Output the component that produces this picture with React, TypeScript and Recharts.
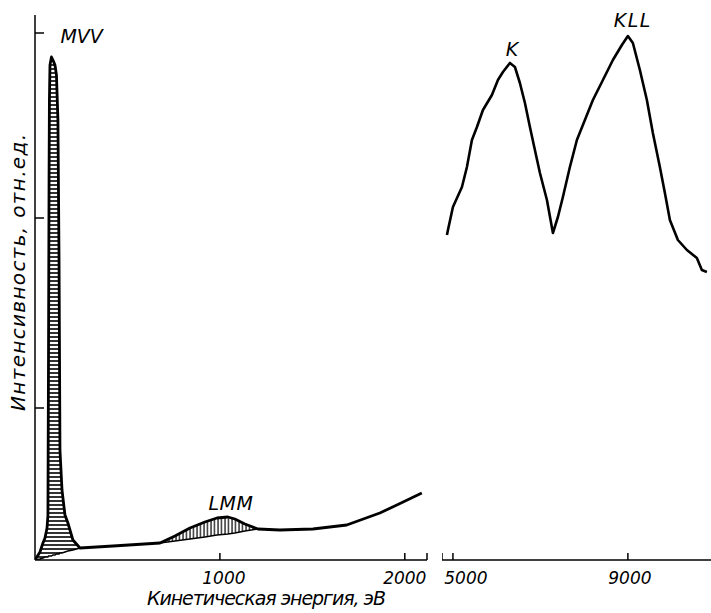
import React from 'react';
import { ComposedChart, Line, Area, XAxis, YAxis, ReferenceDot, Label } from 'recharts';

// ---- Left panel (0 – 2120 eV) ----
const leftEnergy = [0, 27, 43, 54, 65, 70, 73, 76, 78, 81, 89, 97, 108, 116, 124, 130, 135, 146, 162, 178, 205, 243, 422, 676, 757, 838, 919, 984, 1043, 1081, 1135, 1205, 1324, 1503, 1686, 1865, 1957, 2092];
const leftIntensity = [0, 8, 17, 22, 32, 45, 200, 380, 460, 495, 503, 500, 495, 485, 440, 300, 110, 70, 45, 37, 20, 12, 14, 17, 24, 32, 38, 42, 43, 41, 36, 31, 30, 31, 35, 47, 55, 67];
const leftBackground: (number | null)[] = [0, 1, 2, 3, 3, 3, 4, 4, 4, 4, 4, 5, 5, 6, 6, 6, 7, 7, 8, 9, 10, 12, null, 17, 19, 21, 23, 25, 26, 27, 29, 31, null, null, null, null, null, null];
const leftBandKind = ['mvv', 'mvv', 'mvv', 'mvv', 'mvv', 'mvv', 'mvv', 'mvv', 'mvv', 'mvv', 'mvv', 'mvv', 'mvv', 'mvv', 'mvv', 'mvv', 'mvv', 'mvv', 'mvv', 'mvv', 'mvv', 'mvv', '', 'lmm', 'lmm', 'lmm', 'lmm', 'lmm', 'lmm', 'lmm', 'lmm', 'lmm', '', '', '', '', '', ''];

// ---- Right panel (4750 – 10900 eV) ----
const rightEnergy = [4863, 4886, 5000, 5206, 5320, 5434, 5549, 5686, 5891, 6029, 6143, 6303, 6417, 6531, 6646, 6760, 6874, 6989, 7149, 7286, 7400, 7514, 7674, 7834, 8017, 8200, 8429, 8657, 8863, 9000, 9114, 9274, 9434, 9571, 9731, 9846, 9960, 10143, 10349, 10577, 10691, 10806];
const rightIntensity = [325, 330, 353, 373, 393, 420, 433, 450, 465, 480, 488, 497, 493, 477, 457, 433, 410, 387, 360, 327, 343, 363, 393, 420, 440, 460, 480, 500, 515, 524, 517, 490, 460, 427, 393, 367, 340, 320, 310, 302, 290, 288];

// ---- Axes ----
const leftTicks = [1000, 2000, 2120];
const leftTickLabels = ['1000', '2000', ''];
const rightTicks = [4750, 5000, 9000];
const rightTickLabels = ['', '5000', '9000'];
const yTicks = [152, 342, 527];

// ---- Peak labels ----
const peakNames = ['MVV', 'LMM', 'K', 'KLL'];
const peakEnergy = [89, 1043, 6303, 9000];
const peakIntensity = [503, 43, 497, 524];

const leftData = leftEnergy.map((e, i) => ({
  e,
  y: leftIntensity[i],
  mvv: leftBandKind[i] === 'mvv' ? [leftBackground[i], leftIntensity[i]] : null,
  lmm: leftBandKind[i] === 'lmm' ? [leftBackground[i], leftIntensity[i]] : null,
  bg: leftBackground[i],
}));
const rightData = rightEnergy.map((e, i) => ({ e, y: rightIntensity[i] }));

const FONT = '"DejaVu Sans", sans-serif';

const makeXTick = (ticks: number[], labels: string[], shifts: number[]) => (props: any) => {
  const { x, y, payload } = props;
  const idx = ticks.indexOf(payload.value);
  const lab = idx >= 0 ? labels[idx] : '';
  const dx = idx >= 0 ? shifts[idx] : 0;
  return (
    <g>
      <line x1={x} x2={x} y1={y} y2={y - 7} stroke="#000" strokeWidth={1.5} />
      {lab ? (
        <text x={x + dx} y={y + 24} textAnchor="middle" fontFamily={FONT} fontStyle="italic" fontSize={17} fill="#000">
          {lab}
        </text>
      ) : null}
    </g>
  );
};

const YTick = (props: any) => {
  const { x, y } = props;
  return <line x1={x} x2={x + 9} y1={y} y2={y} stroke="#000" strokeWidth={1.5} />;
};

const PeakLabel = (text: string, dx: number, dy: number, anchor: string, spacing: number) => (props: any) => {
  const vb = props.viewBox || {};
  return (
    <text x={vb.x + dx} y={vb.y + dy} textAnchor={anchor} fontFamily={FONT} fontStyle="italic" fontSize={19} letterSpacing={spacing} fill="#000">
      {text}
    </text>
  );
};

const XTitle = (props: any) => {
  const vb = props.viewBox || {};
  return (
    <text x={vb.x + 112} y={vb.y + 45} fontFamily={FONT} fontStyle="italic" fontSize={19} textLength={239} lengthAdjust="spacing" fill="#000">
      Кинетическая энергия, эВ
    </text>
  );
};

const YTitle = (props: any) => {
  const vb = props.viewBox || {};
  const cx = vb.x + vb.width - 10;
  const cy = vb.y + vb.height / 2 - 15;
  return (
    <text x={cx} y={cy} transform={`rotate(-90, ${cx}, ${cy})`} textAnchor="middle" fontFamily={FONT} fontStyle="italic" fontSize={20} textLength={277} lengthAdjust="spacing" fill="#000">
      Интенсивность, отн.ед.
    </text>
  );
};

const labelSpecs: [number, number, string, number][] = [
  [9, -14, 'start', 0],
  [3, -7, 'middle', 0.5],
  [2, -7, 'middle', 0],
  [5, -9, 'middle', 1.5],
];

export default function App() {
  return (
    <div style={{ position: 'absolute', left: 0, top: 0, width: 711, height: 613, background: '#fff' }}>
      <div style={{ position: 'absolute', left: 0, top: 0 }}>
        <ComposedChart width={440} height={613} data={leftData} margin={{ top: 15, right: 13, bottom: 52, left: 34 }}>
          <defs>
            <pattern id="hatchH" width={6} height={4} patternUnits="userSpaceOnUse">
              <rect width={6} height={4} fill="#fff" />
              <line x1={0} x2={6} y1={1} y2={1} stroke="#000" strokeWidth={1.6} />
            </pattern>
            <pattern id="hatchV" width={3.5} height={6} patternUnits="userSpaceOnUse">
              <rect width={3.5} height={6} fill="#fff" />
              <line x1={1} x2={1} y1={0} y2={6} stroke="#000" strokeWidth={1.2} />
            </pattern>
          </defs>
          <XAxis
            type="number"
            dataKey="e"
            domain={[0, 2120]}
            ticks={leftTicks}
            interval={0}
            height={1}
            tickSize={0}
            tickMargin={0}
            tickLine={false}
            axisLine={{ stroke: '#000', strokeWidth: 1.5 }}
            tick={makeXTick(leftTicks, leftTickLabels, [4, 0, 0])}
            allowDataOverflow
          >
            <Label content={<XTitle />} />
          </XAxis>
          <YAxis
            type="number"
            domain={[0, 545]}
            ticks={yTicks}
            interval={0}
            width={1}
            tickSize={0}
            tickMargin={0}
            tickLine={false}
            axisLine={{ stroke: '#000', strokeWidth: 1.5 }}
            tick={<YTick />}
            allowDataOverflow
          >
            <Label content={<YTitle />} />
          </YAxis>
          <Area dataKey="mvv" type="linear" stroke="none" fill="url(#hatchH)" fillOpacity={1} isAnimationActive={false} connectNulls={false} activeDot={false} />
          <Area dataKey="lmm" type="linear" stroke="none" fill="url(#hatchV)" fillOpacity={1} isAnimationActive={false} connectNulls={false} activeDot={false} />
          <Line dataKey="bg" type="linear" stroke="#000" strokeWidth={1.5} dot={false} isAnimationActive={false} connectNulls={false} activeDot={false} />
          <Line dataKey="y" type="linear" stroke="#000" strokeWidth={2.8} strokeLinejoin="round" dot={false} isAnimationActive={false} activeDot={false} />
          {[0, 1].map((i) => (
            <ReferenceDot key={peakNames[i]} x={peakEnergy[i]} y={peakIntensity[i]} r={0} fill="none" stroke="none"
              label={PeakLabel(peakNames[i], labelSpecs[i][0], labelSpecs[i][1], labelSpecs[i][2], labelSpecs[i][3])} />
          ))}
        </ComposedChart>
      </div>
      <div style={{ position: 'absolute', left: 442, top: 0 }}>
        <ComposedChart width={269} height={613} data={rightData} margin={{ top: 15, right: 0, bottom: 52, left: 0 }}>
          <XAxis
            type="number"
            dataKey="e"
            domain={[4750, 10900]}
            ticks={rightTicks}
            interval={0}
            height={1}
            tickSize={0}
            tickMargin={0}
            tickLine={false}
            axisLine={{ stroke: '#000', strokeWidth: 1.5 }}
            tick={makeXTick(rightTicks, rightTickLabels, [0, 13, 2])}
            allowDataOverflow
          />
          <YAxis type="number" domain={[0, 545]} hide width={0} allowDataOverflow />
          <Line dataKey="y" type="linear" stroke="#000" strokeWidth={2.6} strokeLinejoin="round" dot={false} isAnimationActive={false} activeDot={false} />
          {[2, 3].map((i) => (
            <ReferenceDot key={peakNames[i]} x={peakEnergy[i]} y={peakIntensity[i]} r={0} fill="none" stroke="none"
              label={PeakLabel(peakNames[i], labelSpecs[i][0], labelSpecs[i][1], labelSpecs[i][2], labelSpecs[i][3])} />
          ))}
        </ComposedChart>
      </div>
    </div>
  );
}
